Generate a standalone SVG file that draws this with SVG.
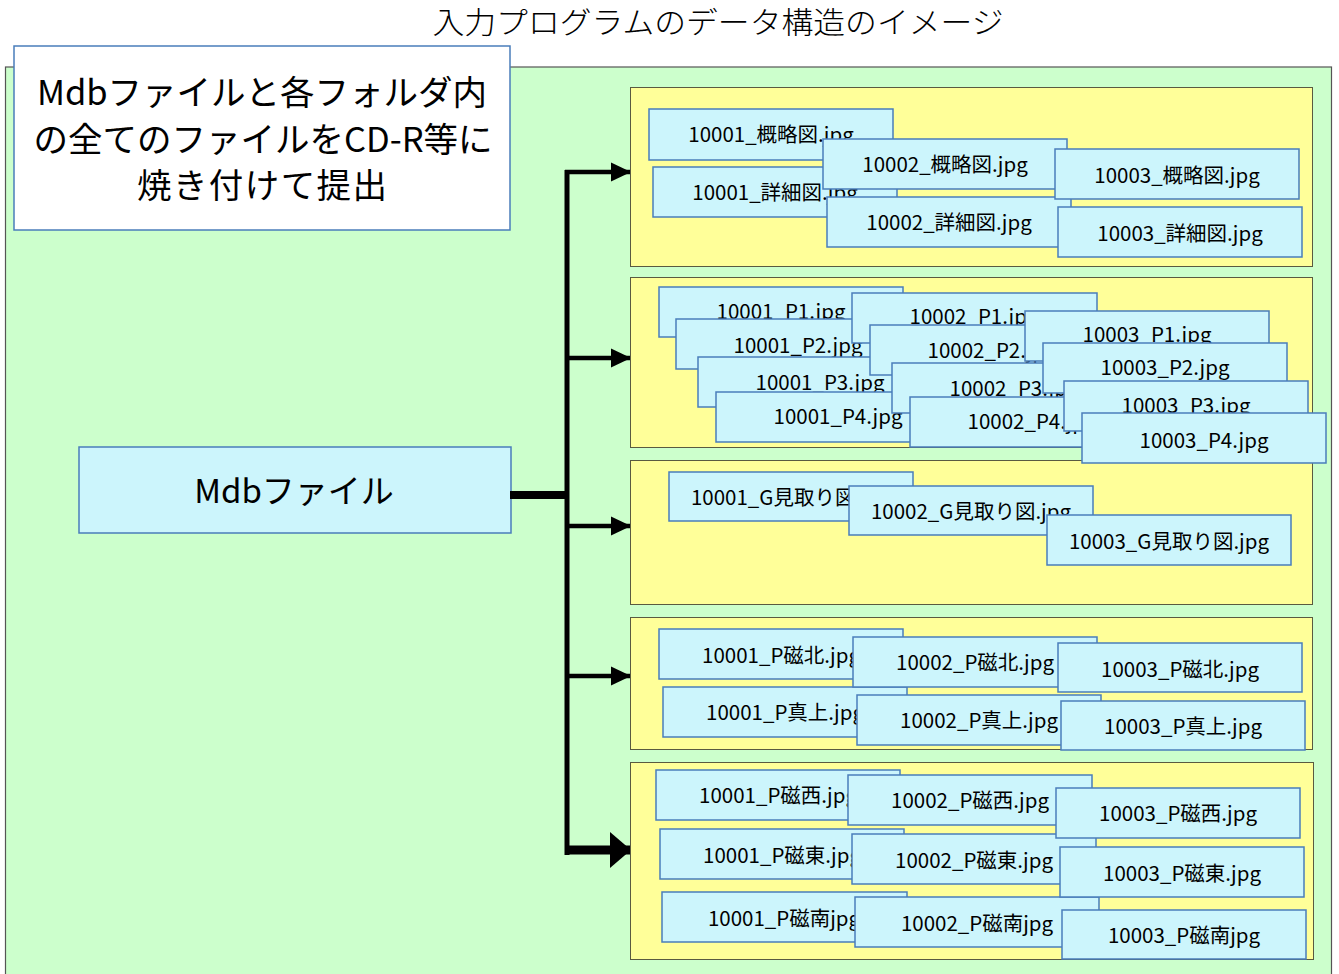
<svg xmlns="http://www.w3.org/2000/svg" width="1339" height="974" viewBox="0 0 1339 974">
<style>
.t{font-family:"Noto Sans CJK JP","Noto Sans",sans-serif;fill:#000}
.f{fill:#CCF5FC;stroke:#4A7DBA;stroke-width:1.5}
.y{fill:#FFFF99;stroke:#5a5a40;stroke-width:1}
.ft{font-size:20.5px;text-anchor:middle}
.big{font-size:34.5px;text-anchor:middle}
.ln{stroke:#000;fill:none}
</style>
<defs>
<marker id="ah" markerUnits="userSpaceOnUse" markerWidth="20" markerHeight="20" refX="20" refY="10" orient="auto" viewBox="0 0 20 20"><path d="M0,0.5 L20,10 L0,19.5 z" fill="#000"/></marker>
<marker id="ahb" markerUnits="userSpaceOnUse" markerWidth="21" markerHeight="36" refX="21" refY="18" orient="auto" viewBox="0 0 21 36"><path d="M0,0 L21,18 L0,36 z" fill="#000"/></marker>
</defs>
<rect width="1339" height="974" fill="#fff"/>
<text class="t" x="718" y="33" font-size="30" font-weight="300" text-anchor="middle" fill="#222" textLength="571" lengthAdjust="spacingAndGlyphs">入力プログラムのデータ構造のイメージ</text>
<g id="background">
<rect x="5.5" y="67" width="1326" height="920" fill="#CCFFCC" stroke="#555" stroke-width="1.2"/>
</g>
<g id="note">
<rect x="14" y="46" width="496" height="184" fill="#fff" stroke="#4A7DBA" stroke-width="1.5"/>
<text class="t big" x="262" y="105">Mdbファイルと各フォルダ内</text>
<text class="t big" x="263" y="152">の全てのファイルをCD-R等に</text>
<text class="t big" x="262" y="198" textLength="250">焼き付けて提出</text>
</g>
<g id="mdb">
<rect class="f" x="79" y="447" width="432" height="86"/>
<text class="t" x="294" y="503" font-size="33" text-anchor="middle">Mdbファイル</text>
</g>
<g id="connectors">
<line class="ln" x1="510" y1="495" x2="569" y2="495" stroke-width="8"/>
<line class="ln" x1="567" y1="170" x2="567" y2="855" stroke-width="5"/>
<line class="ln" x1="565" y1="172" x2="631" y2="172" stroke-width="4.5" marker-end="url(#ah)"/>
<line class="ln" x1="565" y1="358" x2="631" y2="358" stroke-width="4.5" marker-end="url(#ah)"/>
<line class="ln" x1="565" y1="526" x2="631" y2="526" stroke-width="4.5" marker-end="url(#ah)"/>
<line class="ln" x1="565" y1="676" x2="631" y2="676" stroke-width="4.5" marker-end="url(#ah)"/>
<line class="ln" x1="565" y1="850" x2="631" y2="850" stroke-width="9" marker-end="url(#ahb)"/>
</g>
<g id="folder1">
<rect class="y" x="630.5" y="87.5" width="682" height="179"/>
<rect class="f" x="649" y="109" width="244" height="51"/><text class="t ft" x="771" y="142">10001_概略図.jpg</text>
<rect class="f" x="653" y="167" width="244" height="50"/><text class="t ft" x="775" y="200">10001_詳細図.jpg</text>
<rect class="f" x="823" y="139" width="244" height="50"/><text class="t ft" x="945" y="172">10002_概略図.jpg</text>
<rect class="f" x="827" y="197" width="244" height="50"/><text class="t ft" x="949" y="230">10002_詳細図.jpg</text>
<rect class="f" x="1055" y="149" width="244" height="50"/><text class="t ft" x="1177" y="183">10003_概略図.jpg</text>
<rect class="f" x="1058" y="207" width="244" height="50"/><text class="t ft" x="1180" y="241">10003_詳細図.jpg</text>
</g>
<g id="folder3">
<rect class="y" x="630.5" y="460.5" width="682" height="144"/>
<rect class="f" x="669" y="472" width="244" height="49"/><text class="t ft" x="791" y="505">10001_G見取り図.jpg</text>
<rect class="f" x="849" y="486" width="244" height="49"/><text class="t ft" x="971" y="519">10002_G見取り図.jpg</text>
<rect class="f" x="1047" y="515" width="244" height="50"/><text class="t ft" x="1169" y="549">10003_G見取り図.jpg</text>
</g>
<g id="folder2">
<rect class="y" x="630.5" y="277.5" width="682" height="170"/>
<rect class="f" x="659" y="287" width="244" height="50"/><text class="t ft" x="781" y="319">10001_P1.jpg</text>
<rect class="f" x="676" y="319" width="244" height="50"/><text class="t ft" x="798" y="353">10001_P2.jpg</text>
<rect class="f" x="698" y="357" width="244" height="50"/><text class="t ft" x="820" y="390">10001_P3.jpg</text>
<rect class="f" x="716" y="392" width="244" height="50"/><text class="t ft" x="838" y="424">10001_P4.jpg</text>
<rect class="f" x="852" y="293" width="245" height="50"/><text class="t ft" x="974" y="324">10002_P1.jpg</text>
<rect class="f" x="870" y="325" width="244" height="50"/><text class="t ft" x="992" y="358">10002_P2.jpg</text>
<rect class="f" x="892" y="363" width="244" height="50"/><text class="t ft" x="1014" y="396">10002_P3.jpg</text>
<rect class="f" x="910" y="397" width="244" height="50"/><text class="t ft" x="1032" y="429">10002_P4.jpg</text>
<rect class="f" x="1025" y="311" width="244" height="50"/><text class="t ft" x="1147" y="342">10003_P1.jpg</text>
<rect class="f" x="1043" y="343" width="244" height="50"/><text class="t ft" x="1165" y="375">10003_P2.jpg</text>
<rect class="f" x="1064" y="381" width="244" height="50"/><text class="t ft" x="1186" y="413">10003_P3.jpg</text>
<rect class="f" x="1082" y="413" width="244" height="50"/><text class="t ft" x="1204" y="448">10003_P4.jpg</text>
</g>
<g id="folder4">
<rect class="y" x="630.5" y="617.5" width="682" height="132"/>
<rect class="f" x="659" y="629" width="244" height="50"/><text class="t ft" x="781" y="663">10001_P磁北.jpg</text>
<rect class="f" x="663" y="687" width="244" height="50"/><text class="t ft" x="785" y="720">10001_P真上.jpg</text>
<rect class="f" x="853" y="637" width="244" height="50"/><text class="t ft" x="975" y="670">10002_P磁北.jpg</text>
<rect class="f" x="857" y="695" width="244" height="50"/><text class="t ft" x="979" y="728">10002_P真上.jpg</text>
<rect class="f" x="1058" y="643" width="244" height="49"/><text class="t ft" x="1180" y="677">10003_P磁北.jpg</text>
<rect class="f" x="1061" y="701" width="244" height="49"/><text class="t ft" x="1183" y="734">10003_P真上.jpg</text>
</g>
<g id="folder5">
<rect class="y" x="630.5" y="762.5" width="683" height="197"/>
<rect class="f" x="656" y="770" width="244" height="50"/><text class="t ft" x="778" y="803">10001_P磁西.jpg</text>
<rect class="f" x="660" y="829" width="244" height="50"/><text class="t ft" x="782" y="863">10001_P磁東.jpg</text>
<rect class="f" x="662" y="892" width="245" height="50"/><text class="t ft" x="784" y="926">10001_P磁南jpg</text>
<rect class="f" x="848" y="775" width="244" height="50"/><text class="t ft" x="970" y="808">10002_P磁西.jpg</text>
<rect class="f" x="852" y="834" width="244" height="50"/><text class="t ft" x="974" y="868">10002_P磁東.jpg</text>
<rect class="f" x="855" y="897" width="244" height="50"/><text class="t ft" x="977" y="931">10002_P磁南jpg</text>
<rect class="f" x="1056" y="788" width="244" height="50"/><text class="t ft" x="1178" y="821">10003_P磁西.jpg</text>
<rect class="f" x="1060" y="847" width="244" height="50"/><text class="t ft" x="1182" y="881">10003_P磁東.jpg</text>
<rect class="f" x="1062" y="910" width="244" height="49"/><text class="t ft" x="1184" y="943">10003_P磁南jpg</text>
</g>
</svg>
